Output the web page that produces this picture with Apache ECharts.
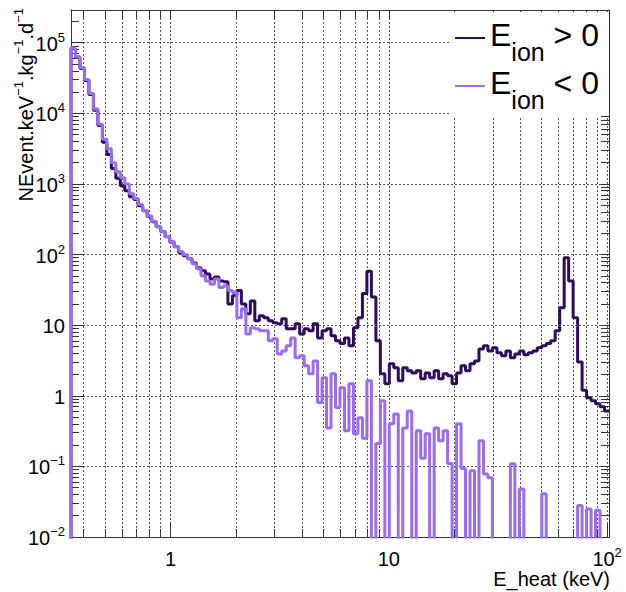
<!DOCTYPE html>
<html><head><meta charset="utf-8">
<script src="https://cdn.jsdelivr.net/npm/echarts@6/dist/echarts.min.js"></script>
<style>html,body{margin:0;padding:0;background:#fff}#c{width:626px;height:592px}</style>
</head><body><div id="c"></div>
<script>
// Histogram binning (log bins, keV)
const binMin = 0.35, binMax = 102, nBins = 120;

// E_ion > 0 (counts / keV / kg / d), one value per bin
const ionPos = [82000,62000,43000,29000,18500,11000,6700,3900,2600,1650,
1200,940,800,660,600,490,415,345,290,248,
210,178,150,129,106,96,87,76,65,59,
53,45,48,42,41,20,26,31,20,14.5,
22,11.5,13.6,12.7,11.5,10.8,10.5,12.3,8.9,8.9,
10.5,7.5,8.9,8.3,10.5,6.6,8.3,8.9,7.1,6,
5.5,6.6,5.1,9.2,12.7,28,58,25,6,2.05,
1.48,2.84,2.49,1.63,2.49,2.26,2.1,2.26,1.74,2.1,
1.8,2.26,1.74,2.05,1.92,1.48,2.1,2.66,2.26,2.84,
3.1,4.6,5.1,4.3,4.8,4.06,3.7,4.3,3.45,3.9,
4.3,3.8,4.06,4.3,4.8,5.1,5.5,6,8.3,17.7,
90,42,12.7,3.0,1.2,0.94,0.85,0.77,0.70,0.61];

// E_ion < 0
const ionNeg = [84000,63000,44000,30000,19000,11500,7000,4300,3150,2000,
1480,1220,1000,725,620,510,420,350,295,250,
212,180,152,130,110,99,87,74,63,50,
42,38,45,34,36,31,29,12.7,17,7.5,
9.2,8.9,8.3,8.3,6,6.4,3.9,4.3,5.1,6.6,
3.45,3.7,2.66,2.05,3.1,0.8,1.8,0.35,2.05,0.68,
1.3,0.32,1.48,0.29,0.49,0.25,1.63,0,0.21,0.85,
0,0.40,0.55,0,0.35,0.61,0,0.32,0.13,0.29,
0,0.35,0.23,0.32,0.11,0,0.40,0.093,0,0.087,
0,0.23,0.078,0.069,0,0,0,0,0.109,0,
0.048,0,0,0,0,0.041,0,0,0,0,
0,0,0,0.028,0,0.025,0,0.024,0,0];

const xMajor = [1, 10, 100];
const xMinor = [0.4,0.5,0.6,0.7,0.8,0.9,2,3,4,5,6,7,8,9,20,30,40,50,60,70,80,90];
const yMajor = [0.01,0.1,1,10,100,1000,10000,100000];
const yMin = 0.01, yMax = 290000;
const yMinor = [];
yMajor.forEach(d => { for (let m = 2; m <= 9; m++) { const v = +(d*m).toPrecision(3); if (v < yMax) yMinor.push(v); } });

const colPos = '#2e0b5e';
const colNeg = '#9a6cf4';
const FONT = 'Liberation Sans, Arial, Helvetica, sans-serif';

const edges = [];
for (let i = 0; i <= nBins; i++) edges.push(binMin * Math.pow(binMax/binMin, i/nBins));
const FLOOR = 1e-4;
function histPoints(vals){
  const pts = [[edges[0], FLOOR]];
  vals.forEach((v,i) => pts.push([edges[i], v > 0 ? v : FLOOR]));
  const last = vals[vals.length-1];
  pts.push([edges[nBins], last > 0 ? last : FLOOR]);
  return pts;
}
function powLabel(v){
  const e = Math.round(Math.log10(v));
  if (e === 0) return '{n|1}';
  if (e === 1) return '{n|10}';
  return '{n|10}{s|' + (e < 0 ? '\u2212' : '') + Math.abs(e) + '}';
}
const labRich = {
  n:{fontSize:20, fontFamily:FONT, color:'#000', lineHeight:24, padding:[3,0,0,0], verticalAlign:'top'},
  s:{fontSize:13, fontFamily:FONT, color:'#000', lineHeight:13, verticalAlign:'top'}
};
const frame = {show:true, lineStyle:{color:'#333', width:1}};
const tickStyle = {color:'#333', width:1};
const xAll = xMinor.concat(xMajor).sort((a,b)=>a-b);
const baseX = {type:'log', logBase:10, min:binMin, max:binMax, gridIndex:0};
const baseY = {type:'log', logBase:10, min:yMin, max:yMax, gridIndex:0};

const chart = echarts.init(document.getElementById('c'), null, {renderer:'svg'});
chart.setOption({
  animation:false,
  backgroundColor:'#fff',
  grid:{left:71, right:17, top:10, bottom:55, containLabel:false},
  xAxis:[
    Object.assign({}, baseX, {position:'bottom', axisLine:frame,
      axisTick:{show:true, inside:true, length:8, customValues:xAll, lineStyle:tickStyle},
      axisLabel:{show:true, customValues:xMajor, formatter:powLabel, margin:9, rich:labRich},
      splitLine:{show:true, lineStyle:{color:'#555', width:1, type:[2,2]}}}),
    Object.assign({}, baseX, {position:'bottom', axisLine:{show:false},
      axisTick:{show:true, inside:true, length:14, customValues:xMajor, lineStyle:tickStyle},
      axisLabel:{show:false}, splitLine:{show:false}}),
    Object.assign({}, baseX, {position:'top', axisLine:frame,
      axisTick:{show:true, inside:true, length:8, customValues:xAll, lineStyle:tickStyle},
      axisLabel:{show:false}, splitLine:{show:false}})
  ],
  yAxis:[
    Object.assign({}, baseY, {position:'left', axisLine:frame,
      axisTick:{show:true, inside:true, length:13, customValues:yMajor, lineStyle:tickStyle},
      axisLabel:{show:true, customValues:yMajor, formatter:powLabel, margin:6, rich:labRich},
      splitLine:{show:true, lineStyle:{color:'#555', width:1, type:[2,2]}}}),
    Object.assign({}, baseY, {position:'left', axisLine:{show:false},
      axisTick:{show:true, inside:true, length:8, customValues:yMinor, lineStyle:tickStyle},
      axisLabel:{show:false}, splitLine:{show:false}}),
    Object.assign({}, baseY, {position:'right', axisLine:frame,
      axisTick:{show:true, inside:true, length:8, customValues:yMinor.concat(yMajor).sort((a,b)=>a-b), lineStyle:tickStyle},
      axisLabel:{show:false}, splitLine:{show:false}})
  ],
  legend:{
    orient:'vertical', right:17, top:12, padding:[7,10,4,4], itemGap:3,
    itemWidth:30, itemHeight:2, icon:'rect', backgroundColor:'#fff',
    data:['E_ion > 0','E_ion < 0'],
    formatter: name => name === 'E_ion > 0' ? '{b|E}{s|ion}{b| > 0}' : '{b|E}{s|ion}{b| < 0}',
    textStyle:{rich:{
      b:{fontSize:32, fontFamily:FONT, color:'#000', lineHeight:38, verticalAlign:'top'},
      s:{fontSize:25, fontFamily:FONT, color:'#000', lineHeight:25, padding:[20,0,0,0], verticalAlign:'top'}
    }}
  },
  graphic:[
    {type:'text', right:16, top:569, style:{text:'E_heat (keV)', font:'20px ' + FONT, fill:'#000'}},
    {type:'text', x:12, y:8, rotation:Math.PI/2,
     style:{text:'{t|NEvent.keV}{u|\u22121}{t|.kg}{u|\u22121}{t|.d}{u|\u22121}', align:'right', verticalAlign:'top',
       rich:{t:{fontSize:20, fontFamily:FONT, fill:'#000', lineHeight:24, padding:[4,0,0,0], verticalAlign:'top'},
             u:{fontSize:13, fontFamily:FONT, fill:'#000', lineHeight:13, verticalAlign:'top'}}}}
  ],
  series:[
    {name:'E_ion > 0', type:'line', step:'end', xAxisIndex:0, yAxisIndex:0, data:histPoints(ionPos),
     symbol:'none', showSymbol:false, clip:true, z:3, lineStyle:{color:colPos, width:3}, itemStyle:{color:colPos}},
    {name:'E_ion < 0', type:'line', step:'end', xAxisIndex:0, yAxisIndex:0, data:histPoints(ionNeg),
     symbol:'none', showSymbol:false, clip:true, z:4, lineStyle:{color:colNeg, width:3}, itemStyle:{color:colNeg}}
  ]
});
</script>
</body></html>
